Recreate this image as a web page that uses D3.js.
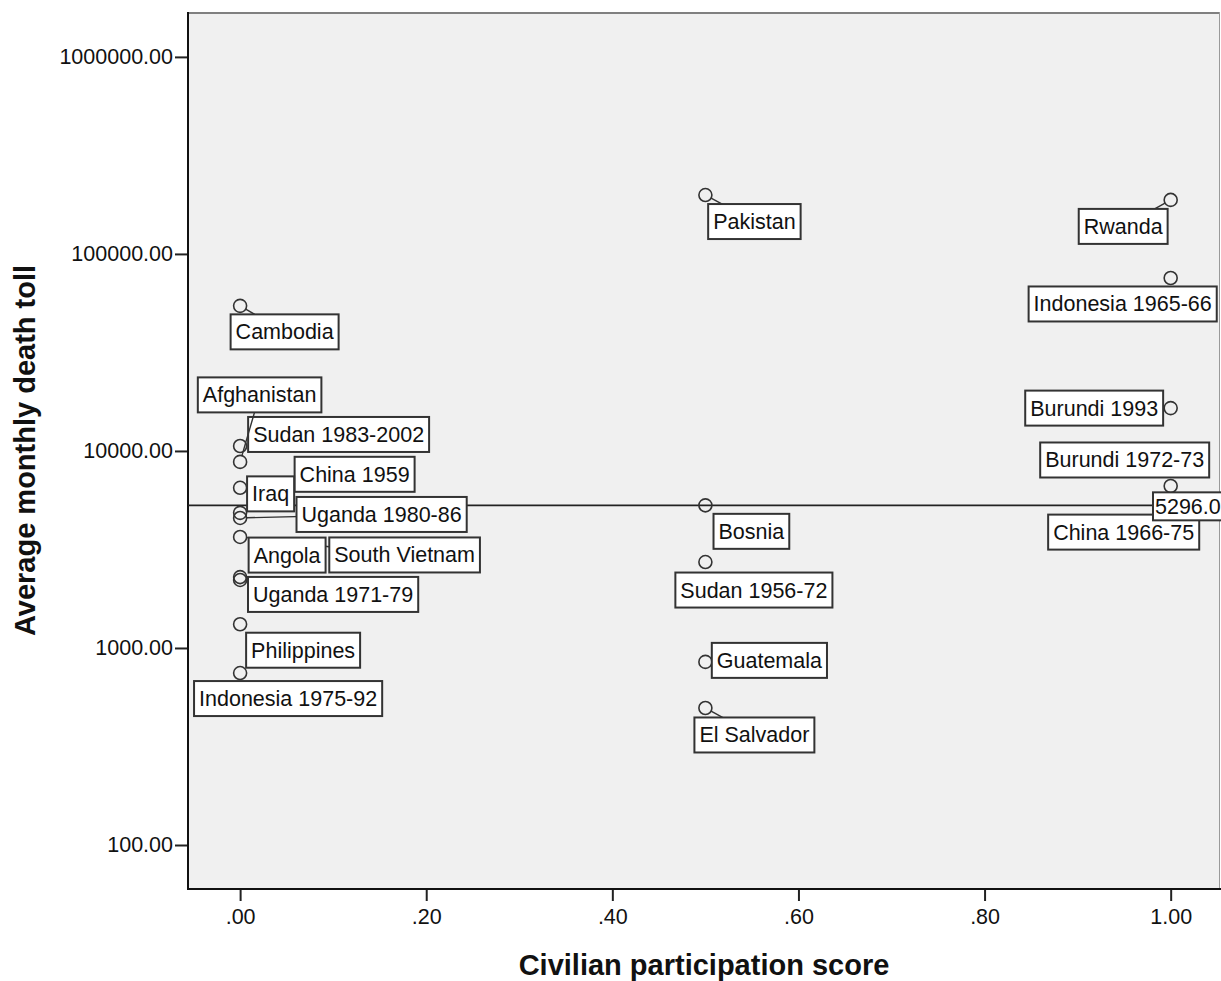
<!DOCTYPE html>
<html>
<head>
<meta charset="utf-8">
<script src="https://cdn.jsdelivr.net/npm/d3@7"></script>
<style>
  body { margin: 0; background: #fff; }
  svg text { font-family: "Liberation Sans", Arial, sans-serif; fill: #111; }
</style>
</head>
<body>
<svg id="chart" width="1221" height="981"></svg>
<script>
// cases, in drawing order (later labels sit on top)
const caseNames = [
  'Cambodia', 'Sudan 1983-2002', 'Afghanistan', 'China 1959', 'Iraq', 'Uganda 1980-86',
  'South Vietnam', 'Angola', 'Uganda 1971-79', 'Philippines', 'Indonesia 1975-92',
  'Pakistan', 'Bosnia', 'Sudan 1956-72', 'Guatemala', 'El Salvador',
  'Rwanda', 'Indonesia 1965-66', 'Burundi 1993', 'Burundi 1972-73', 'China 1966-75'
];
const participation = [
  0, 0, 0, 0, 0, 0, 0, 0, 0, 0, 0,
  0.5, 0.5, 0.5, 0.5, 0.5,
  1, 1, 1, 1, 1
];
const monthlyDeaths = [
  54500, 10600, 8800, 6500, 4850, 4570, 3660, 2290, 2215, 1320, 746,
  199000, 5296, 2730, 850, 496,
  188000, 75500, 16500, 6640, 5500
];
const xTicks = [0, 0.2, 0.4, 0.6, 0.8, 1.0];
const yTicks = [100, 1000, 10000, 100000, 1000000];

// label box placement: centre offset from the point, and whether a leader line is drawn
const labelPlace = {
  'Cambodia': [44.5, 26, true],
  'Sudan 1983-2002': [98.5, -11.5, false],
  'Afghanistan': [19.5, -67, true],
  'China 1959': [114.5, -13.5, true],
  'Iraq': [30.5, -19, false],
  'Uganda 1980-86': [141.5, -3.5, true],
  'South Vietnam': [164.5, 18, true],
  'Angola': [47, -22, false],
  'Uganda 1971-79': [93, 14.5, false],
  'Philippines': [63, 26, false],
  'Indonesia 1975-92': [48, 25.5, false],
  'Pakistan': [49, 26.5, true],
  'Bosnia': [46, 26, false],
  'Sudan 1956-72': [48.5, 28, false],
  'Guatemala': [64, -1.5, false],
  'El Salvador': [49, 27, true],
  'Rwanda': [-47.5, 26.5, true],
  'Indonesia 1965-66': [-48, 26, false],
  'Burundi 1993': [-76.5, 0, false],
  'Burundi 1972-73': [-46, -26, false],
  'China 1966-75': [-47, 30, false]
};

const svg = d3.select('#chart');
const plotL = 188, plotR = 1220, plotT = 12, plotB = 889;

const x = d3.scaleLinear().domain([-0.056, 1.053]).range([plotL, plotR]);
const y = d3.scaleLog().domain([59.8, 1.69e6]).range([plotB, plotT]);

const rows = caseNames.map((n, i) => ({ name: n, x: participation[i], y: monthlyDeaths[i] }));

// plot background
svg.append('rect')
  .attr('x', plotL).attr('y', plotT)
  .attr('width', plotR - plotL).attr('height', plotB - plotT)
  .attr('fill', '#f0f0f0');

// axes
const fmtX = d => d3.format('.2f')(d).replace(/^0\./, '.');
const xAxis = svg.append('g')
  .attr('transform', `translate(0,${plotB})`)
  .call(d3.axisBottom(x).tickValues(xTicks).tickFormat(fmtX).tickSize(12).tickPadding(8));
const yAxis = svg.append('g')
  .attr('transform', `translate(${plotL},0)`)
  .call(d3.axisLeft(y).tickValues(yTicks).tickFormat(d3.format('.2f')).tickSize(13).tickPadding(2));
[xAxis, yAxis].forEach(a => {
  a.select('.domain').remove();
  a.selectAll('.tick line').attr('stroke', '#222').attr('stroke-width', 2);
  a.selectAll('.tick text').attr('font-size', 21.5).attr('fill', '#111')
    .style('font-family', '"Liberation Sans", Arial, sans-serif');
});

// frame
svg.append('line').attr('x1', plotL).attr('x2', plotR).attr('y1', plotT + 1).attr('y2', plotT + 1)
  .attr('stroke', '#808080').attr('stroke-width', 2);
svg.append('line').attr('x1', plotR - 0.5).attr('x2', plotR - 0.5).attr('y1', plotT).attr('y2', plotB)
  .attr('stroke', '#9a9a9a').attr('stroke-width', 1);
svg.append('line').attr('x1', plotL).attr('x2', plotR + 1).attr('y1', plotB).attr('y2', plotB)
  .attr('stroke', '#111').attr('stroke-width', 2);
svg.append('line').attr('x1', plotL).attr('x2', plotL).attr('y1', plotT).attr('y2', plotB + 1)
  .attr('stroke', '#111').attr('stroke-width', 2);

// axis titles
svg.append('text')
  .attr('x', (plotL + plotR) / 2).attr('y', 975)
  .attr('text-anchor', 'middle')
  .attr('font-size', 29).attr('font-weight', 700)
  .text('Civilian participation score');
svg.append('text')
  .attr('transform', `translate(35,${(plotT + plotB) / 2}) rotate(-90)`)
  .attr('text-anchor', 'middle')
  .attr('font-size', 29).attr('font-weight', 700)
  .text('Average monthly death toll');

// median reference line
const median = d3.median(monthlyDeaths);
svg.append('line')
  .attr('x1', plotL).attr('x2', plotR)
  .attr('y1', y(median)).attr('y2', y(median))
  .attr('stroke', '#222').attr('stroke-width', 1.6);

// points
const r = 6.5;
svg.append('g').selectAll('circle')
  .data(rows)
  .join('circle')
  .attr('cx', d => x(d.x))
  .attr('cy', d => y(d.y))
  .attr('r', r)
  .attr('fill', 'none')
  .attr('stroke', '#333')
  .attr('stroke-width', 1.6);

// labels
const boxH = 35;
const labelG = svg.append('g');
rows.forEach(d => {
  const [dx, dy, leader] = labelPlace[d.name];
  const px = x(d.x), py = y(d.y);
  const cx = px + dx, cy = py + dy;
  const g = labelG.append('g');
  if (leader) {
    const len = Math.hypot(dx, dy);
    g.append('line')
      .attr('x1', px + dx / len * r).attr('y1', py + dy / len * r)
      .attr('x2', cx).attr('y2', cy)
      .attr('stroke', '#333').attr('stroke-width', 1.4);
  }
  const rect = g.append('rect');
  const t = g.append('text')
    .attr('x', cx).attr('y', cy + 7.5)
    .attr('text-anchor', 'middle')
    .attr('font-size', 21.5)
    .text(d.name);
  const w = t.node().getComputedTextLength() + 10;
  rect.attr('x', cx - w / 2).attr('y', cy - boxH / 2)
    .attr('width', w).attr('height', boxH)
    .attr('fill', '#fff').attr('stroke', '#333').attr('stroke-width', 2);
});

// median value label at the right end of the line
const mg = svg.append('g');
const mt = mg.append('text')
  .attr('x', 1155).attr('y', y(median) + 8.5)
  .attr('font-size', 21.5)
  .text(d3.format('.1f')(median));
const mw = mt.node().getComputedTextLength() + 6;
mg.insert('rect', 'text')
  .attr('x', 1153).attr('y', y(median) - 13)
  .attr('width', mw).attr('height', 28)
  .attr('fill', '#fff').attr('stroke', '#333').attr('stroke-width', 2);
</script>
</body>
</html>
